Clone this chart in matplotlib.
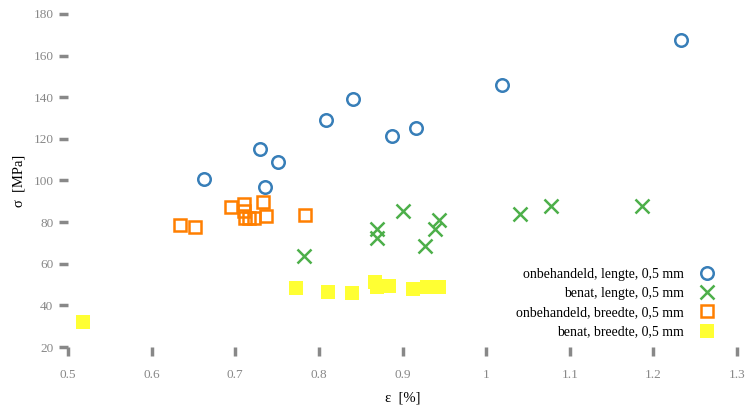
import matplotlib
matplotlib.use('Agg')

import matplotlib.pyplot as plt

plt.rcParams["font.family"] = ["Liberation Serif", "DejaVu Serif"]
plt.rcParams['font.size'] = 10

# onbehandeld, lengte
x_ol = [0.663, 0.729, 0.736, 0.751, 0.809, 0.841, 0.887, 0.916, 1.019, 1.233]
y_ol = [100.9, 115.0, 96.9, 109.1, 129.0, 139.2, 121.3, 125.1, 146.0, 167.6]

# benat, lengte
x_bl = [0.782, 0.870, 0.869, 0.901, 0.927, 0.939, 0.944, 1.041, 1.078, 1.186]
y_bl = [63.8, 76.6, 72.6, 85.4, 68.6, 76.6, 81.1, 83.9, 87.9, 87.8]

# onbehandeld, breedte
x_ob = [0.634, 0.652, 0.695, 0.710, 0.710, 0.712, 0.717, 0.722, 0.733, 0.737, 0.783]
y_ob = [78.7, 77.5, 87.2, 88.8, 85.5, 81.9, 81.9, 81.9, 89.7, 83.0, 83.3]

# benat, breedte
x_bb = [0.518, 0.773, 0.811, 0.840, 0.867, 0.869, 0.884, 0.912, 0.929, 0.944]
y_bb = [31.9, 48.2, 46.3, 45.8, 51.1, 48.7, 49.3, 47.7, 49.0, 49.0]

labels = ["onbehandeld, lengte, 0,5 mm", "benat, lengte, 0,5 mm",
          "onbehandeld, breedte, 0,5 mm", "benat, breedte, 0,5 mm"]

fig = plt.figure(figsize=(7.54, 4.13), dpi=100)
ax = fig.add_axes([68/754, 1-347/413, (737-68)/754, (347-14)/413])

ax.plot(x_ol, y_ol, 'o', ls='none', ms=9, mfc='none', mec='#377eb8', mew=1.8, label=labels[0])
ax.plot(x_bl, y_bl, 'x', ls='none', ms=10.5, mec='#4daf4a', mew=1.8, label=labels[1])
ax.plot(x_ob, y_ob, 's', ls='none', ms=9, mfc='none', mec='#ff7f00', mew=1.8, label=labels[2])
ax.plot(x_bb, y_bb, 's', ls='none', ms=10.5, mfc='#ffff33', mec='#ffff33', mew=0, label=labels[3])

ax.set_xlim(0.5, 1.3)
ax.set_ylim(20, 180)
ax.set_xticks([0.5, 0.6, 0.7, 0.8, 0.9, 1.0, 1.1, 1.2, 1.3])
ax.set_xticklabels(['0.5', '0.6', '0.7', '0.8', '0.9', '1', '1.1', '1.2', '1.3'])
ax.set_yticks(range(20, 181, 20))

for s in ax.spines.values():
    s.set_visible(False)
ax.tick_params(axis='both', colors='#888888', length=6.5, width=2.5, labelsize=9.5)
ax.tick_params(axis='x', pad=9)
ax.tick_params(axis='y', pad=4)
for lab in ax.get_xticklabels() + ax.get_yticklabels():
    lab.set_color('#888888')

ax.set_xlabel("ε  [%]", fontsize=10.5, labelpad=8)
ax.set_ylabel("σ  [MPa]", fontsize=10.5, labelpad=6)

leg = ax.legend(loc='lower right', bbox_to_anchor=(0.987, -0.012), frameon=False,
                markerfirst=False, fontsize=10, handletextpad=1.1,
                labelspacing=0.45, handlelength=1.2)
for t in leg.get_texts():
    t.set_ha('right')

plt.savefig("out.png", format='png', dpi=100)
